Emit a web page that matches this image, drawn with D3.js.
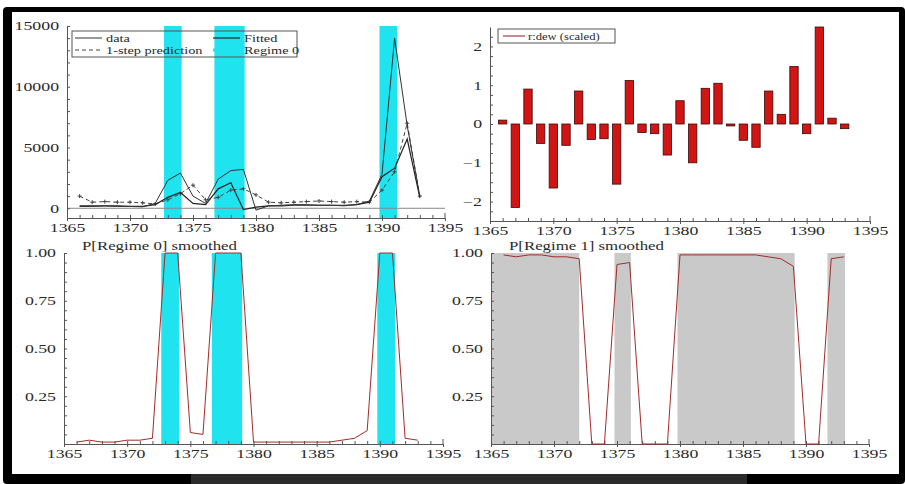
<!DOCTYPE html>
<html>
<head>
<meta charset="utf-8">
<script src="https://cdn.jsdelivr.net/npm/d3@7"></script>
<style>
  body { margin: 0; background: #fff; }
  svg text { font-family: "Liberation Serif", "DejaVu Serif", serif; fill: #2a2a2a; }
</style>
</head>
<body>
<script>
const years = [1366, 1367, 1368, 1369, 1370, 1371, 1372, 1373, 1374, 1375, 1376, 1377, 1378, 1379,
  1380, 1381, 1382, 1383, 1384, 1385, 1386, 1387, 1388, 1389, 1390, 1391, 1392, 1393];
const xTicks = [1365, 1370, 1375, 1380, 1385, 1390, 1395];

// top left: data, fitted, 1-step prediction
const dew = [150, 150, 200, 150, 150, 120, 400, 2300, 2900, 1000, 400, 2400, 3100, 3200,
  -150, 200, 250, 300, 300, 250, 250, 200, 300, 600, 2800, 14000, 6800, 1000];
const fitted = [200, 200, 200, 200, 150, 150, 300, 900, 1300, 400, 300, 1600, 2100, -100,
  100, 200, 200, 250, 250, 250, 250, 250, 300, 500, 2600, 3300, 5700, 900];
const prediction = [1000, 500, 550, 500, 500, 450, 350, 700, 1200, 1900, 700, 900, 1500, 1600,
  1100, 500, 450, 500, 550, 600, 550, 500, 550, 500, 1500, 3000, 7000, 1000];
const tlTicks = [0, 5000, 10000, 15000];
const tlMinor = [1000, 2000, 3000, 4000, 6000, 7000, 8000, 9000, 11000, 12000, 13000, 14000];

// top right: scaled residuals
const residScaled = [0.1, -2.15, 0.9, -0.5, -1.65, -0.55, 0.85, -0.4, -0.38, -1.55, 1.12, -0.22, -0.25, -0.8,
  0.6, -1.0, 0.92, 1.05, -0.05, -0.42, -0.6, 0.85, 0.25, 1.48, -0.25, 2.5, 0.15, -0.12];
const trTicks = [-2, -1, 0, 1, 2];
const trMinor = [-2.25, -1.75, -1.5, -1.25, -0.75, -0.5, -0.25, 0.25, 0.5, 0.75, 1.25, 1.5, 1.75, 2.25];

// bottom: smoothed regime probabilities
const pRegime0 = [0.01, 0.02, 0.01, 0.01, 0.02, 0.02, 0.03, 1, 1, 0.06, 0.05, 1, 1, 1,
  0.01, 0.01, 0.01, 0.01, 0.01, 0.01, 0.01, 0.02, 0.03, 0.07, 1, 1, 0.03, 0.02];
const pRegime1 = [0.99, 0.98, 0.99, 0.99, 0.98, 0.98, 0.97, 0, 0, 0.94, 0.95, 0, 0, 0,
  0.99, 0.99, 0.99, 0.99, 0.99, 0.99, 0.99, 0.98, 0.97, 0.93, 0, 0, 0.97, 0.98];
const regime0Spans = [[1372.7, 1374.1], [1376.7, 1379.1], [1389.8, 1391.2]];
const regime1Spans = [[1365, 1372.0], [1374.8, 1376.1], [1379.8, 1389.1], [1391.7, 1393.1]];
const probTicks = [0.25, 0.5, 0.75, 1];
const probMinor = [0.05, 0.1, 0.15, 0.2, 0.3, 0.35, 0.4, 0.45, 0.55, 0.6, 0.65, 0.7, 0.8, 0.85, 0.9, 0.95];

const width = 905, height = 484;
const cyan = "#1fe3ef";

const svg = d3.select("body").append("svg")
  .attr("width", width)
  .attr("height", height);

// outer frame
svg.append("rect").attr("x", 3).attr("y", 7).attr("width", width - 3).attr("height", height - 7)
  .attr("rx", 4).attr("fill", "#000");
svg.append("rect").attr("x", 191).attr("y", 474).attr("width", 556).attr("height", 10).attr("fill", "#2b2b2b");
svg.append("rect").attr("x", 12).attr("y", 12).attr("width", 887).attr("height", 462).attr("fill", "#fff");

function stretch(sel, k) {
  sel.each(function () {
    const w = this.getComputedTextLength();
    d3.select(this).attr("textLength", w * k).attr("lengthAdjust", "spacingAndGlyphs");
  });
}

function axes(x, y, ticks, fmt, minor) {
  const [yb, yt] = y.range();
  const g = svg.append("g");

  g.append("g").attr("transform", `translate(0,${yb})`)
    .call(d3.axisBottom(x).tickValues(xTicks).tickFormat(d3.format("d"))
      .tickSizeInner(3).tickSizeOuter(0).tickPadding(2));
  g.append("g").attr("transform", `translate(0,${yb})`)
    .call(d3.axisBottom(x).tickValues(d3.range(1366, 1395)).tickFormat("")
      .tickSizeInner(-3).tickSizeOuter(0))
    .call(s => s.select(".domain").remove());
  // little end tick on the right
  g.append("line").attr("x1", x.range()[1]).attr("x2", x.range()[1])
    .attr("y1", yb).attr("y2", yb - 5).attr("stroke", "#555");

  const ya = g.append("g").attr("transform", `translate(${x.range()[0]},0)`)
    .call(d3.axisLeft(y).tickValues(ticks).tickFormat(fmt)
      .tickSizeInner(5).tickSizeOuter(0).tickPadding(3));
  ya.selectAll(".tick line").attr("x2", 3);
  g.append("g").attr("transform", `translate(${x.range()[0]},0)`)
    .call(d3.axisLeft(y).tickValues(minor).tickFormat("").tickSizeInner(-3).tickSizeOuter(0))
    .call(s => s.select(".domain").remove());

  g.selectAll("g").attr("font-family", null).attr("font-size", null);
  g.selectAll("path, line").attr("stroke", "#555");
  g.selectAll("text").style("font-size", "12px").attr("fill", "#2a2a2a");
  stretch(g.selectAll("text"), 1.48);
  return g;
}

// ---------- top left ----------
const xTL = d3.scaleLinear().domain([1365, 1395]).range([67, 445]);
const yTL = d3.scaleLinear().domain([-800, 15000]).range([218, 26]);

svg.append("g").selectAll("rect").data(regime0Spans).join("rect")
  .attr("x", d => xTL(d[0])).attr("width", d => xTL(d[1]) - xTL(d[0]))
  .attr("y", yTL(15000)).attr("height", yTL(-800) - yTL(15000))
  .attr("fill", cyan);

svg.append("line").attr("x1", xTL(1365)).attr("x2", xTL(1395))
  .attr("y1", yTL(0)).attr("y2", yTL(0)).attr("stroke", "#888");

axes(xTL, yTL, tlTicks, d3.format("d"), tlMinor);

const tlLine = v => d3.line().x((d, i) => xTL(years[i])).y(d => yTL(d))(v);

svg.append("path").attr("d", tlLine(prediction)).attr("fill", "none")
  .attr("stroke", "#444").attr("stroke-dasharray", "4,3").attr("stroke-width", 1);
svg.append("g").selectAll("path").data(prediction).join("path")
  .attr("transform", (d, i) => `translate(${xTL(years[i])},${yTL(d)})`)
  .attr("d", "M-2,0H2M0,-2V2").attr("stroke", "#444").attr("fill", "none");
svg.append("path").attr("d", tlLine(fitted)).attr("fill", "none")
  .attr("stroke", "#222").attr("stroke-width", 1.2);
svg.append("path").attr("d", tlLine(dew)).attr("fill", "none")
  .attr("stroke", "#333").attr("stroke-width", 1);

// legend
const legTL = svg.append("g");
legTL.append("rect").attr("x", 72).attr("y", 31).attr("width", 225).attr("height", 26)
  .attr("fill", "none").attr("stroke", "#555");
const legItems = [
  { label: "data", x: 75, y: 38, stroke: "#333", dash: null, w: 1 },
  { label: "Fitted", x: 213, y: 38, stroke: "#222", dash: null, w: 1.2 },
  { label: "1-step prediction", x: 75, y: 50, stroke: "#444", dash: "4,3", w: 1 },
  { label: "Regime 0", x: 213, y: 50, stroke: cyan, dash: null, w: 3 }
];
legItems.forEach(d => {
  legTL.append("line").attr("x1", d.x).attr("x2", d.x + 27).attr("y1", d.y).attr("y2", d.y)
    .attr("stroke", d.stroke).attr("stroke-width", d.w).attr("stroke-dasharray", d.dash);
  legTL.append("text").attr("x", d.x + 31).attr("y", d.y + 3.5)
    .style("font-size", "11px").text(d.label);
});
stretch(legTL.selectAll("text"), 1.3);

// ---------- top right ----------
const xTR = d3.scaleLinear().domain([1365, 1395]).range([490, 870]);
const yTR = d3.scaleLinear().domain([-2.5, 2.5]).range([221, 27]);

axes(xTR, yTR, trTicks, d3.format("d"), trMinor);

svg.append("g").selectAll("rect").data(residScaled).join("rect")
  .attr("x", (d, i) => xTR(years[i] - 0.33))
  .attr("width", xTR(1365.66) - xTR(1365))
  .attr("y", d => yTR(Math.max(0, d)))
  .attr("height", d => Math.abs(yTR(d) - yTR(0)))
  .attr("fill", "#d11414").attr("stroke", "#3a0a0a").attr("stroke-width", 0.8);

const legTR = svg.append("g");
legTR.append("rect").attr("x", 498).attr("y", 29).attr("width", 117).attr("height", 14)
  .attr("fill", "none").attr("stroke", "#555");
legTR.append("line").attr("x1", 503).attr("x2", 525).attr("y1", 36).attr("y2", 36).attr("stroke", "#8a1a1a");
legTR.append("text").attr("x", 528).attr("y", 39.5).style("font-size", "10.5px").text("r:dew (scaled)");
stretch(legTR.selectAll("text"), 1.2);

// ---------- bottom panels ----------
function probPanel(x0, x1, spans, fill, probs, title) {
  const x = d3.scaleLinear().domain([1365, 1395]).range([x0, x1]);
  const y = d3.scaleLinear().domain([0, 1]).range([444, 253]);

  svg.append("g").selectAll("rect").data(spans).join("rect")
    .attr("x", d => x(d[0])).attr("width", d => x(d[1]) - x(d[0]))
    .attr("y", y(1)).attr("height", y(0) - y(1))
    .attr("fill", fill);

  axes(x, y, probTicks, d3.format(".2f"), probMinor);

  svg.append("path")
    .attr("d", d3.line().x((d, i) => x(years[i])).y(d => y(d))(probs))
    .attr("fill", "none").attr("stroke", "#a52a2a").attr("stroke-width", 1);

  const t = svg.append("text").attr("x", x0 + 18).attr("y", 250)
    .style("font-size", "12px").text(title);
  stretch(t, 1.4);
}

probPanel(64, 443, regime0Spans, cyan, pRegime0, "P[Regime 0] smoothed");
probPanel(491, 869, regime1Spans, "#c9c9c9", pRegime1, "P[Regime 1] smoothed");
</script>
</body>
</html>
